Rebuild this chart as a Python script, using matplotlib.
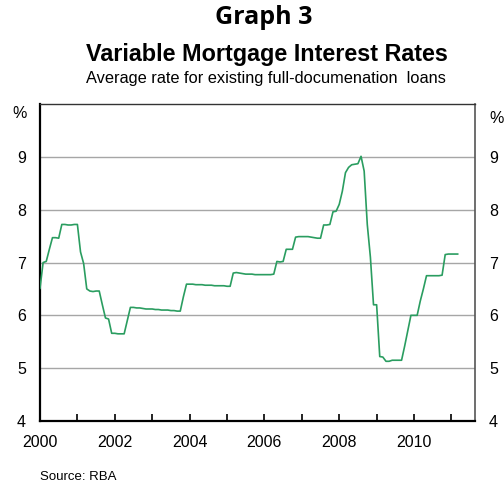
import matplotlib
matplotlib.use('Agg')
import matplotlib.pyplot as plt
import numpy as np

# monthly average variable mortgage rate, Jan 2000 .. Mar 2011 (%)
start_year = 2000
rates = [
    6.51, 7.00, 7.02, 7.25, 7.47, 7.47, 7.46, 7.72, 7.72, 7.71, 7.71, 7.72,   # 2000
    7.72, 7.20, 6.98, 6.50, 6.46, 6.45, 6.46, 6.46, 6.20, 5.95, 5.93, 5.66,   # 2001
    5.66, 5.65, 5.65, 5.65, 5.90, 6.15, 6.15, 6.14, 6.14, 6.13, 6.12, 6.12,   # 2002
    6.12, 6.11, 6.11, 6.10, 6.10, 6.10, 6.09, 6.09, 6.08, 6.08, 6.35, 6.59,   # 2003
    6.59, 6.59, 6.58, 6.58, 6.58, 6.57, 6.57, 6.57, 6.56, 6.56, 6.56, 6.56,   # 2004
    6.55, 6.55, 6.80, 6.81, 6.80, 6.79, 6.78, 6.78, 6.78, 6.77, 6.77, 6.77,   # 2005
    6.77, 6.77, 6.77, 6.78, 7.02, 7.01, 7.02, 7.25, 7.25, 7.25, 7.48, 7.49,   # 2006
    7.49, 7.49, 7.49, 7.48, 7.47, 7.46, 7.46, 7.71, 7.71, 7.72, 7.96, 7.97,   # 2007
    8.10, 8.35, 8.70, 8.80, 8.85, 8.86, 8.87, 9.01, 8.73, 7.72, 7.10, 6.20,   # 2008
    6.20, 5.22, 5.21, 5.13, 5.13, 5.15, 5.15, 5.15, 5.15, 5.42, 5.71, 6.00,   # 2009
    6.00, 6.00, 6.27, 6.50, 6.75, 6.75, 6.75, 6.75, 6.75, 6.76, 7.15, 7.16,   # 2010
    7.16, 7.16, 7.16,                                                         # 2011
]
dates = start_year + np.arange(len(rates)) / 12.0

year_ticks = list(range(2000, 2012))
year_labels = [str(y) if y % 2 == 0 else '' for y in year_ticks]
rate_ticks = [4, 5, 6, 7, 8, 9]

fig = plt.figure(figsize=(5.04, 4.84), dpi=100)
ax = fig.add_axes([40/504, 1 - 421/484, 435/504, 317/484])

ax.plot(dates, rates, color='#2a9d60', lw=1.2, zorder=3)

ax.set_xlim(2000, 2011.63)
ax.set_ylim(4, 10)

for y in [5, 6, 7, 8, 9]:
    ax.axhline(y, color='#a6a6a6', lw=1.0, zorder=1)

ax.set_xticks(year_ticks)
ax.set_xticklabels(year_labels, fontsize=11.5, family='Liberation Sans')
ax.tick_params(axis='x', direction='in', length=5, width=1.2, pad=10, color='black')
ax.set_yticks(rate_ticks)
ax.set_yticklabels([str(v) for v in rate_ticks], fontsize=11.5, family='Liberation Sans')
ax.tick_params(axis='y', length=0, pad=10, labelleft=True, labelright=True)

ax.spines['left'].set_linewidth(1.6)
ax.spines['left'].set_color('black')
ax.spines['bottom'].set_linewidth(1.6)
ax.spines['bottom'].set_color('black')
ax.spines['top'].set_linewidth(1.0)
ax.spines['top'].set_color('#333333')
ax.spines['right'].set_linewidth(1.2)
ax.spines['right'].set_color('#555555')

ax.text(-0.046, 0.97, '%', transform=ax.transAxes, ha='center', va='center',
        fontsize=11.5, family='Liberation Sans')
ax.text(1.05, 0.955, '%', transform=ax.transAxes, ha='center', va='center',
        fontsize=11.5, family='Liberation Sans')

fig.text(264/504, 1 - 18/484, 'Graph 3', ha='center', va='center',
         fontsize=18, fontweight='bold', family='Open Sans')
fig.text(267/504, 1 - 55/484, 'Variable Mortgage Interest Rates', ha='center', va='center',
         fontsize=16.8, fontweight='bold', family='Liberation Sans')
fig.text(266/504, 1 - 78/484, 'Average rate for existing full-documenation  loans',
         ha='center', va='center', fontsize=11.8, family='Liberation Sans')
fig.text(40/504, 1 - 477/484, 'Source: RBA', ha='left', va='center',
         fontsize=9.5, family='Liberation Sans')

fig.savefig('out.png', dpi=100)
